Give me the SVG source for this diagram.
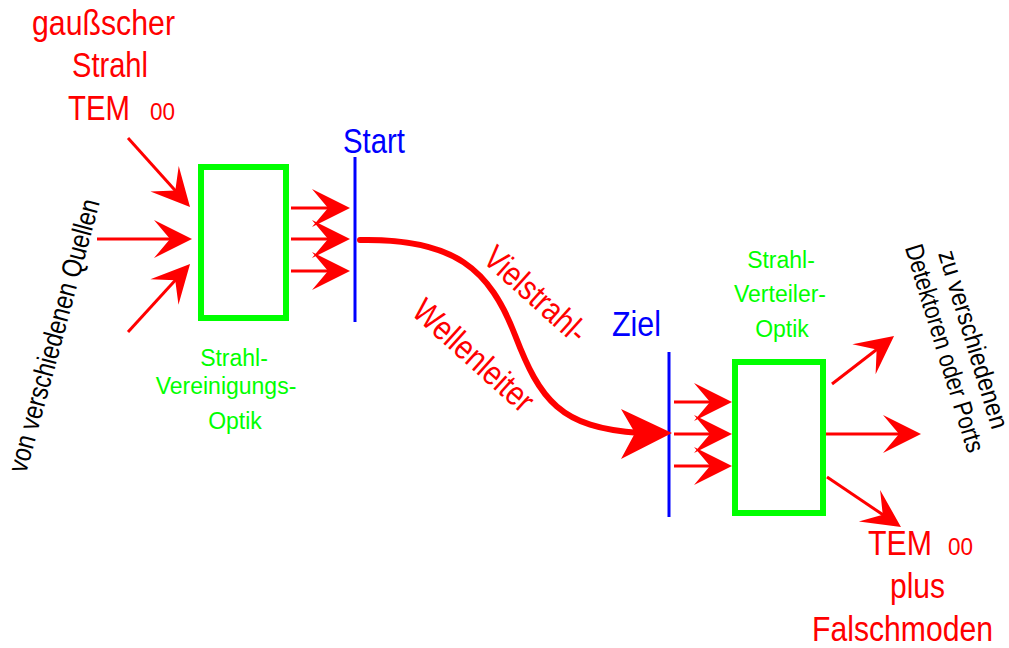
<svg xmlns="http://www.w3.org/2000/svg" width="1009" height="648" viewBox="0 0 1009 648">
<style>
.t{font-family:"Liberation Sans",Arial,sans-serif}
.red{fill:#ff0000}
.blue{fill:#0000ff}
.green{fill:#00ff00;font-size:23px}
.blk{fill:#000000}
.ray{stroke:#ff0000;stroke-width:3;fill:none;marker-end:url(#head)}
.box{fill:none;stroke:#00ff00;stroke-width:6}
.screen{stroke:#0000ff;stroke-width:3}
</style>
<defs>
<marker id="head" markerUnits="userSpaceOnUse" viewBox="-45 -25 50 50" markerWidth="50" markerHeight="50" refX="-6" refY="0" orient="auto">
<path d="M0,0 L-38,-19 L-22,0 L-38,19 Z" fill="#ff0000"/>
</marker>
</defs>
<rect width="1009" height="648" fill="#ffffff"/>

<g id="source-label">
<text class="t red" x="32" y="35" font-size="35" textLength="143" lengthAdjust="spacingAndGlyphs">gaußscher</text>
<text class="t red" x="72" y="77" font-size="35" textLength="76" lengthAdjust="spacingAndGlyphs">Strahl</text>
<text class="t red" x="68" y="120" font-size="35" textLength="62" lengthAdjust="spacingAndGlyphs">TEM</text>
<text class="t red" x="150" y="120" font-size="24" textLength="25" lengthAdjust="spacingAndGlyphs">00</text>
</g>

<g id="sources-label">
<text class="t blk" transform="translate(63,338) rotate(-74.8)" text-anchor="middle" font-size="28" textLength="282" lengthAdjust="spacingAndGlyphs">von verschiedenen Quellen</text>
</g>

<g id="combiner">
<rect class="box" x="201" y="167" width="85" height="151"/>
<text class="t green" x="234" y="366" text-anchor="middle">Strahl-</text>
<text class="t green" x="226" y="394" text-anchor="middle">Vereinigungs-</text>
<text class="t green" x="235" y="429" text-anchor="middle">Optik</text>
</g>

<g id="start">
<line class="screen" x1="355" y1="157" x2="355" y2="322"/>
<text class="t blue" x="343" y="153" font-size="35" textLength="62" lengthAdjust="spacingAndGlyphs">Start</text>
</g>

<g id="waveguide-label">
<text class="t red" transform="translate(528,303) rotate(42)" text-anchor="middle" font-size="34" textLength="126" lengthAdjust="spacingAndGlyphs">Vielstrahl-</text>
<text class="t red" transform="translate(466,364) rotate(42)" text-anchor="middle" font-size="34" textLength="150" lengthAdjust="spacingAndGlyphs">Wellenleiter</text>
</g>

<g id="ziel">
<line class="screen" x1="669" y1="352" x2="669" y2="517"/>
<text class="t blue" x="612" y="336" font-size="35" textLength="49" lengthAdjust="spacingAndGlyphs">Ziel</text>
</g>

<g id="splitter">
<rect class="box" x="735" y="362" width="88" height="151"/>
<text class="t green" x="781" y="268" text-anchor="middle">Strahl-</text>
<text class="t green" x="780" y="302" text-anchor="middle">Verteiler-</text>
<text class="t green" x="782" y="337" text-anchor="middle">Optik</text>
</g>

<g id="detectors-label">
<g transform="translate(965,342) rotate(73)">
<text class="t blk" x="0" y="0" text-anchor="middle" font-size="26" textLength="185" lengthAdjust="spacingAndGlyphs">zu verschiedenen</text>
<text class="t blk" x="0" y="30" text-anchor="middle" font-size="26" textLength="216" lengthAdjust="spacingAndGlyphs">Detektoren oder Ports</text>
</g>
</g>

<g id="output-label">
<text class="t red" x="868" y="555" font-size="35" textLength="64" lengthAdjust="spacingAndGlyphs">TEM</text>
<text class="t red" x="948" y="555" font-size="24" textLength="25" lengthAdjust="spacingAndGlyphs">00</text>
<text class="t red" x="890" y="598" font-size="35" textLength="55" lengthAdjust="spacingAndGlyphs">plus</text>
<text class="t red" x="812" y="641" font-size="35" textLength="181" lengthAdjust="spacingAndGlyphs">Falschmoden</text>
</g>

<g id="connectors">
<line class="ray" x1="128" y1="138" x2="186" y2="202.5"/>
<line class="ray" x1="97" y1="239" x2="186" y2="239"/>
<line class="ray" x1="128" y1="332" x2="186" y2="268.4"/>
<line class="ray" x1="291" y1="208" x2="344" y2="208"/>
<line class="ray" x1="291" y1="239" x2="344" y2="239"/>
<line class="ray" x1="291" y1="271" x2="344" y2="271"/>
<path d="M360,240 C455,238 490,270 515,335 C540,400 560,428 640,433" fill="none" stroke="#ff0000" stroke-width="6" stroke-linecap="round"/>
<path d="M672,433 L621,409 L635,433 L621,459 Z" fill="#ff0000"/>
<line class="ray" x1="674" y1="402" x2="726" y2="402"/>
<line class="ray" x1="674" y1="434" x2="726" y2="434"/>
<line class="ray" x1="674" y1="466" x2="726" y2="466"/>
<line class="ray" x1="832" y1="384" x2="889.3" y2="339.7"/>
<line class="ray" x1="826" y1="434" x2="915" y2="434"/>
<line class="ray" x1="827" y1="477" x2="896" y2="523.6"/>
</g>
</svg>
